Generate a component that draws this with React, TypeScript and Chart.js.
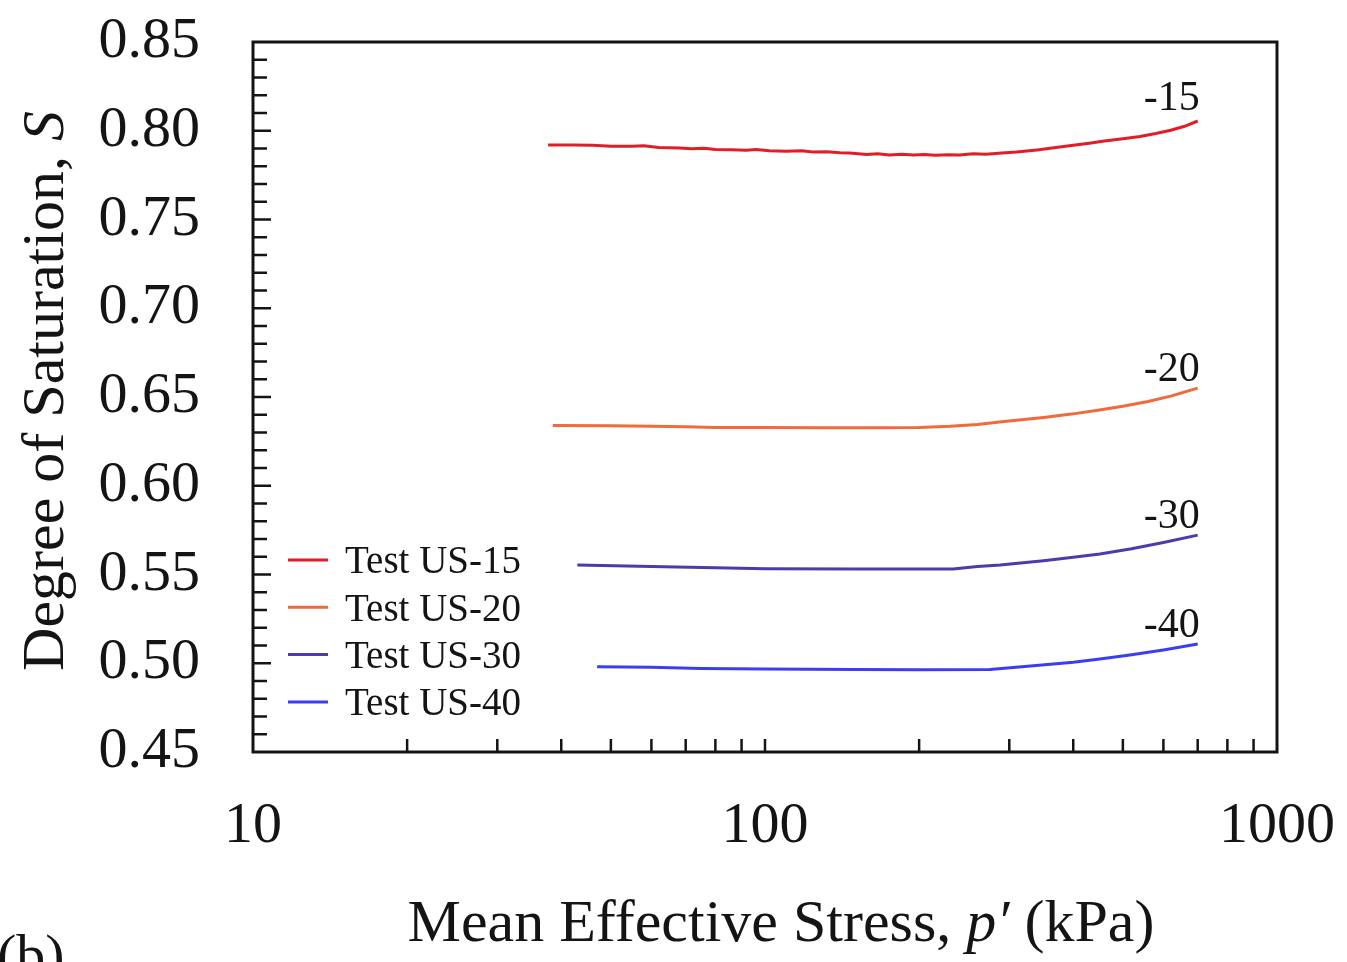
import { useEffect, useRef } from 'react';
import { Chart, registerables } from 'chart.js';

Chart.register(...registerables);

// Series names, end-of-curve labels and colours
const seriesNames = ['Test US-15', 'Test US-20', 'Test US-30', 'Test US-40'];
const endLabels = ['-15', '-20', '-30', '-40'];
const seriesColors = ['#e31d28', '#f06a3c', '#4a3cae', '#3a3ef0'];

// Mean effective stress p' (kPa) and degree of saturation S for each test
const us15Stress = [37.7, 42, 46, 50, 55, 58, 62, 68, 72, 76, 80, 86, 92, 96, 102, 110, 118, 124, 132, 140, 146, 152, 158, 166, 175, 185, 195, 205, 215, 228, 240, 255, 270, 290, 310, 340, 370, 400, 430, 460, 500, 540, 580, 620, 660, 700];
const us15Sat = [0.792, 0.792, 0.7918, 0.7912, 0.7912, 0.7915, 0.7905, 0.7903, 0.7898, 0.7902, 0.7895, 0.7893, 0.789, 0.7895, 0.7887, 0.7884, 0.7887, 0.788, 0.7882, 0.7876, 0.7874, 0.787, 0.7866, 0.787, 0.7864, 0.7868, 0.7863, 0.7866, 0.7862, 0.7865, 0.7864, 0.787, 0.7868, 0.7875, 0.788, 0.7892, 0.7905, 0.7918, 0.793, 0.7942, 0.7955, 0.7968, 0.7985, 0.8003, 0.8025, 0.8055];

const us20Stress = [38.5, 50, 60, 70, 80, 100, 130, 160, 200, 230, 260, 290, 350, 400, 450, 500, 560, 620, 700];
const us20Sat = [0.634, 0.6338, 0.6335, 0.6332, 0.6328, 0.6328, 0.6327, 0.6327, 0.6328, 0.6335, 0.6345, 0.636, 0.6385, 0.6405, 0.6427, 0.6448, 0.6475, 0.6505, 0.655];

const us30Stress = [43, 60, 80, 100, 150, 233, 260, 288, 350, 400, 451, 520, 600, 700];
const us30Sat = [0.5553, 0.5545, 0.5538, 0.5533, 0.5531, 0.5531, 0.5545, 0.5554, 0.5578, 0.5597, 0.5616, 0.5645, 0.568, 0.5722];

const us40Stress = [47, 60, 75, 100, 150, 200, 275, 330, 400, 451, 520, 600, 700];
const us40Sat = [0.498, 0.4977, 0.497, 0.4967, 0.4965, 0.4964, 0.4965, 0.4985, 0.5005, 0.5024, 0.5048, 0.5075, 0.5108];

// Axis ranges and labelled ticks
const xMin = 10;
const xMax = 1000;
const xLabelValues = [10, 100, 1000];
const yMin = 0.45;
const yMax = 0.85;
const yStep = 0.05;

const stressSets = [us15Stress, us20Stress, us30Stress, us40Stress];
const satSets = [us15Sat, us20Sat, us30Sat, us40Sat];

const SERIF = '"Liberation Serif", "Times New Roman", serif';
const INK = '#141414';

// Draws the frame, inward ticks, axis titles, legend and curve labels
const decorations = {
  id: 'decorations',
  afterDraw(chart: any) {
    const { ctx, chartArea: a, scales } = chart;
    const xs = scales.x;
    const ys = scales.y;
    ctx.save();

    // inward tick marks
    ctx.strokeStyle = INK;
    ctx.lineWidth = 2.5;
    ctx.beginPath();
    for (let i = Math.round(yMin * 100) + 1; i < Math.round(yMax * 100); i++) {
      const y = ys.getPixelForValue(i / 100);
      const len = i % 5 === 0 ? 18 : 14;
      ctx.moveTo(a.left, y);
      ctx.lineTo(a.left + len, y);
    }
    for (let dec = xMin; dec < xMax; dec *= 10) {
      for (let m = 1; m <= 9; m++) {
        const v = dec * m;
        if (v <= xMin || v >= xMax) continue;
        const x = xs.getPixelForValue(v);
        ctx.moveTo(x, a.bottom);
        ctx.lineTo(x, a.bottom - 13);
      }
    }
    ctx.stroke();

    // frame
    ctx.lineWidth = 3;
    ctx.strokeRect(a.left, a.top, a.right - a.left, a.bottom - a.top);

    // curve labels at the end of each curve
    ctx.fillStyle = INK;
    ctx.font = `42px ${SERIF}`;
    ctx.textAlign = 'right';
    ctx.textBaseline = 'alphabetic';
    chart.data.datasets.forEach((ds: any, i: number) => {
      const pts = chart.getDatasetMeta(i).data;
      const last = pts[pts.length - 1];
      ctx.fillText(endLabels[i], last.x + 2, last.y - (i === 0 ? 11 : 7));
    });

    // legend
    ctx.font = `39px ${SERIF}`;
    ctx.textAlign = 'left';
    ctx.textBaseline = 'middle';
    chart.data.datasets.forEach((ds: any, i: number) => {
      const y = a.top + 518 + i * 47.3;
      ctx.strokeStyle = ds.borderColor;
      ctx.lineWidth = 3;
      ctx.beginPath();
      ctx.moveTo(a.left + 35, y);
      ctx.lineTo(a.left + 75, y);
      ctx.stroke();
      ctx.fillStyle = INK;
      ctx.fillText(ds.label, a.left + 92, y + 3);
    });

    // titles made of plain and italic runs
    const drawRuns = (runs: [string, boolean][], cx: number, cy: number, size: number) => {
      const widths = runs.map(([t, it]) => {
        ctx.font = `${it ? 'italic ' : ''}${size}px ${SERIF}`;
        return ctx.measureText(t).width;
      });
      let x = cx - widths.reduce((s, w) => s + w, 0) / 2;
      ctx.textAlign = 'left';
      ctx.textBaseline = 'alphabetic';
      runs.forEach(([t, it], k) => {
        ctx.font = `${it ? 'italic ' : ''}${size}px ${SERIF}`;
        ctx.fillText(t, x, cy);
        x += widths[k];
      });
    };
    ctx.fillStyle = INK;
    drawRuns(
      [
        ['Mean Effective Stress, ', false],
        ['p\u2032', true],
        [' (kPa)', false],
      ],
      (a.left + a.right) / 2 + 16,
      941,
      60
    );

    ctx.save();
    ctx.translate(63, 391);
    ctx.rotate(-Math.PI / 2);
    drawRuns(
      [
        ['Degree of Saturation, ', false],
        ['S', true],
      ],
      0,
      0,
      60
    );
    ctx.restore();

    // panel letter
    ctx.font = `58px ${SERIF}`;
    ctx.textAlign = 'left';
    ctx.textBaseline = 'alphabetic';
    ctx.fillText('(b)', -3, 974);

    ctx.restore();
  },
};

// keep tick padding from pushing the plot area inwards
const clearScalePadding = (scale: any) => {
  scale.paddingTop = 0;
  scale.paddingBottom = 0;
  scale.paddingLeft = 0;
  scale.paddingRight = 0;
};

export default function App() {
  const canvasRef = useRef<HTMLCanvasElement | null>(null);

  useEffect(() => {
    const canvas = canvasRef.current;
    if (!canvas) return;
    const datasets = seriesNames.map((name, i) => ({
      label: name,
      data: stressSets[i].map((p, k) => ({ x: p, y: satSets[i][k] })),
      borderColor: seriesColors[i],
      backgroundColor: seriesColors[i],
      borderWidth: 3,
      pointRadius: 0,
      tension: 0,
      fill: false,
    }));

    const chart = new Chart(canvas, {
      type: 'line',
      data: { datasets },
      plugins: [decorations],
      options: {
        animation: false,
        responsive: false,
        devicePixelRatio: 1,
        layout: { padding: { top: 42, right: 70, left: 0, bottom: 0 } },
        plugins: {
          legend: { display: false },
          tooltip: { enabled: false },
        },
        scales: {
          x: {
            type: 'logarithmic',
            min: xMin,
            max: xMax,
            grid: { display: false, drawTicks: false },
            border: { display: false },
            afterFit: (scale: any) => {
              scale.height = 210;
              clearScalePadding(scale);
            },
            ticks: {
              autoSkip: false,
              maxRotation: 0,
              padding: 40,
              color: INK,
              font: { family: SERIF, size: 58 },
              callback: (value: any) => (xLabelValues.includes(Number(value)) ? String(value) : ''),
            },
          },
          y: {
            type: 'linear',
            min: yMin,
            max: yMax,
            grid: { display: false, drawTicks: false },
            border: { display: false },
            afterFit: (scale: any) => {
              scale.width = 253;
              clearScalePadding(scale);
            },
            ticks: {
              stepSize: yStep,
              autoSkip: false,
              padding: 53,
              color: INK,
              font: { family: SERIF, size: 58 },
              callback: (value: any) => Number(value).toFixed(2),
            },
          },
        },
      },
    } as any);

    return () => chart.destroy();
  }, []);

  return (
    <div style={{ position: 'fixed', left: 0, top: 0, width: 1347, height: 962, background: '#fff' }}>
      <canvas ref={canvasRef} width={1347} height={962} style={{ display: 'block' }} />
    </div>
  );
}
